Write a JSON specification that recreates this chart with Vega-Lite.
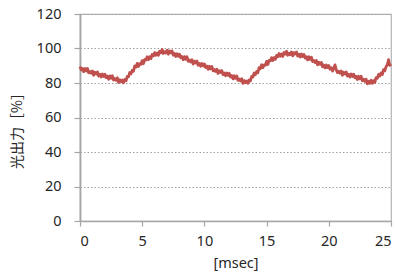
{
"$schema": "https://vega.github.io/schema/vega-lite/v6.json",
"width": 311,
"height": 207,
"autosize": {"type": "none"},
"padding": {"left": 80, "top": 14, "right": 8, "bottom": 54},
"background": "white",
"config": {"view": {"stroke": "#b3b3b3", "strokeWidth": 1.2}},
"data": {"values": [
{"t":0.0,"v":89.6},{"t":0.1,"v":87.6},{"t":0.2,"v":88.4},{"t":0.3,"v":86.6},{"t":0.4,"v":88.4},{"t":0.5,"v":87.0},{"t":0.6,"v":88.4},{"t":0.7,"v":85.9},{"t":0.8,"v":86.7},{"t":0.9,"v":85.7},
{"t":1.0,"v":87.0},{"t":1.1,"v":84.5},{"t":1.2,"v":86.2},{"t":1.3,"v":85.2},{"t":1.4,"v":86.4},{"t":1.5,"v":84.0},{"t":1.6,"v":85.1},{"t":1.7,"v":83.5},{"t":1.8,"v":85.2},{"t":1.9,"v":83.8},
{"t":2.0,"v":85.1},{"t":2.1,"v":83.1},{"t":2.2,"v":84.0},{"t":2.3,"v":82.2},{"t":2.4,"v":84.1},{"t":2.5,"v":82.7},{"t":2.6,"v":84.2},{"t":2.7,"v":81.7},{"t":2.8,"v":82.6},{"t":2.9,"v":81.6},
{"t":3.0,"v":83.0},{"t":3.1,"v":80.3},{"t":3.2,"v":81.9},{"t":3.3,"v":80.7},{"t":3.4,"v":81.7},{"t":3.5,"v":80.1},{"t":3.6,"v":82.0},{"t":3.7,"v":81.3},{"t":3.8,"v":83.8},{"t":3.9,"v":83.6},
{"t":4.0,"v":86.1},{"t":4.1,"v":85.3},{"t":4.2,"v":87.4},{"t":4.3,"v":86.8},{"t":4.4,"v":89.9},{"t":4.5,"v":89.2},{"t":4.6,"v":91.4},{"t":4.7,"v":89.6},{"t":4.8,"v":91.2},{"t":4.9,"v":90.9},
{"t":5.0,"v":93.0},{"t":5.1,"v":91.2},{"t":5.2,"v":93.6},{"t":5.3,"v":93.3},{"t":5.4,"v":95.2},{"t":5.5,"v":93.5},{"t":5.6,"v":95.2},{"t":5.7,"v":94.2},{"t":5.8,"v":96.5},{"t":5.9,"v":95.7},
{"t":6.0,"v":97.6},{"t":6.1,"v":96.1},{"t":6.2,"v":97.4},{"t":6.3,"v":96.0},{"t":6.4,"v":98.4},{"t":6.5,"v":97.5},{"t":6.6,"v":99.4},{"t":6.7,"v":97.1},{"t":6.8,"v":98.2},{"t":6.9,"v":97.4},
{"t":7.0,"v":99.0},{"t":7.1,"v":96.7},{"t":7.2,"v":98.6},{"t":7.3,"v":97.5},{"t":7.4,"v":98.6},{"t":7.5,"v":96.1},{"t":7.6,"v":97.1},{"t":7.7,"v":95.4},{"t":7.8,"v":97.0},{"t":7.9,"v":95.5},
{"t":8.0,"v":96.7},{"t":8.1,"v":94.6},{"t":8.2,"v":95.4},{"t":8.3,"v":93.5},{"t":8.4,"v":95.3},{"t":8.5,"v":93.8},{"t":8.6,"v":95.2},{"t":8.7,"v":92.5},{"t":8.8,"v":93.3},{"t":8.9,"v":92.2},
{"t":9.0,"v":93.5},{"t":9.1,"v":91.0},{"t":9.2,"v":92.6},{"t":9.3,"v":91.6},{"t":9.4,"v":92.7},{"t":9.5,"v":90.3},{"t":9.6,"v":91.3},{"t":9.7,"v":89.7},{"t":9.8,"v":91.3},{"t":9.9,"v":89.9},
{"t":10.0,"v":91.1},{"t":10.1,"v":89.0},{"t":10.2,"v":89.8},{"t":10.3,"v":87.9},{"t":10.4,"v":89.7},{"t":10.5,"v":88.2},{"t":10.6,"v":89.6},{"t":10.7,"v":87.0},{"t":10.8,"v":87.8},{"t":10.9,"v":86.7},
{"t":11.0,"v":88.0},{"t":11.1,"v":85.5},{"t":11.2,"v":87.1},{"t":11.3,"v":86.1},{"t":11.4,"v":87.2},{"t":11.5,"v":84.8},{"t":11.6,"v":85.8},{"t":11.7,"v":84.2},{"t":11.8,"v":85.8},{"t":11.9,"v":84.4},
{"t":12.0,"v":85.6},{"t":12.1,"v":83.5},{"t":12.2,"v":84.3},{"t":12.3,"v":82.4},{"t":12.4,"v":84.2},{"t":12.5,"v":82.7},{"t":12.6,"v":84.1},{"t":12.7,"v":81.5},{"t":12.8,"v":82.3},{"t":12.9,"v":81.2},
{"t":13.0,"v":82.5},{"t":13.1,"v":79.8},{"t":13.2,"v":81.4},{"t":13.3,"v":80.2},{"t":13.4,"v":81.2},{"t":13.5,"v":79.8},{"t":13.6,"v":81.8},{"t":13.7,"v":81.2},{"t":13.8,"v":83.8},{"t":13.9,"v":83.4},
{"t":14.0,"v":85.8},{"t":14.1,"v":84.8},{"t":14.2,"v":86.7},{"t":14.3,"v":86.0},{"t":14.4,"v":88.9},{"t":14.5,"v":88.3},{"t":14.6,"v":90.6},{"t":14.7,"v":88.9},{"t":14.8,"v":90.5},{"t":14.9,"v":90.3},
{"t":15.0,"v":92.5},{"t":15.1,"v":90.7},{"t":15.2,"v":93.1},{"t":15.3,"v":92.8},{"t":15.4,"v":94.7},{"t":15.5,"v":93.0},{"t":15.6,"v":94.7},{"t":15.7,"v":93.7},{"t":15.8,"v":96.0},{"t":15.9,"v":95.2},
{"t":16.0,"v":97.1},{"t":16.1,"v":95.5},{"t":16.2,"v":96.8},{"t":16.3,"v":95.4},{"t":16.4,"v":97.7},{"t":16.5,"v":96.7},{"t":16.6,"v":98.4},{"t":16.7,"v":96.1},{"t":16.8,"v":97.2},{"t":16.9,"v":96.4},
{"t":17.0,"v":98.0},{"t":17.1,"v":95.7},{"t":17.2,"v":97.6},{"t":17.3,"v":96.8},{"t":17.4,"v":98.0},{"t":17.5,"v":95.6},{"t":17.6,"v":96.7},{"t":17.7,"v":95.1},{"t":17.8,"v":96.8},{"t":17.9,"v":95.3},
{"t":18.0,"v":96.5},{"t":18.1,"v":94.4},{"t":18.2,"v":95.3},{"t":18.3,"v":93.4},{"t":18.4,"v":95.2},{"t":18.5,"v":93.7},{"t":18.6,"v":95.0},{"t":18.7,"v":92.4},{"t":18.8,"v":93.1},{"t":18.9,"v":91.9},
{"t":19.0,"v":93.1},{"t":19.1,"v":90.5},{"t":19.2,"v":92.0},{"t":19.3,"v":90.8},{"t":19.4,"v":91.9},{"t":19.5,"v":89.4},{"t":19.6,"v":90.4},{"t":19.7,"v":88.8},{"t":19.8,"v":90.4},{"t":19.9,"v":88.9},
{"t":20.0,"v":90.1},{"t":20.1,"v":88.0},{"t":20.2,"v":88.8},{"t":20.3,"v":86.9},{"t":20.4,"v":88.7},{"t":20.5,"v":90.5},{"t":20.6,"v":87.6},{"t":20.7,"v":86.0},{"t":20.8,"v":86.8},{"t":20.9,"v":85.7},
{"t":21.0,"v":87.0},{"t":21.1,"v":84.5},{"t":21.2,"v":86.2},{"t":21.3,"v":85.2},{"t":21.4,"v":86.4},{"t":21.5,"v":84.0},{"t":21.6,"v":85.1},{"t":21.7,"v":83.5},{"t":21.8,"v":85.2},{"t":21.9,"v":83.8},
{"t":22.0,"v":85.1},{"t":22.1,"v":83.0},{"t":22.2,"v":83.9},{"t":22.3,"v":82.0},{"t":22.4,"v":83.9},{"t":22.5,"v":82.4},{"t":22.6,"v":83.9},{"t":22.7,"v":81.3},{"t":22.8,"v":82.2},{"t":22.9,"v":81.0},
{"t":23.0,"v":82.2},{"t":23.1,"v":79.5},{"t":23.2,"v":81.0},{"t":23.3,"v":79.8},{"t":23.4,"v":81.6},{"t":23.5,"v":79.8},{"t":23.6,"v":81.4},{"t":23.7,"v":80.4},{"t":23.8,"v":83.1},{"t":23.9,"v":82.7},
{"t":24.0,"v":85.0},{"t":24.1,"v":84.0},{"t":24.2,"v":85.9},{"t":24.3,"v":84.9},{"t":24.4,"v":87.7},{"t":24.5,"v":87.1},{"t":24.6,"v":89.4},{"t":24.7,"v":90.5},{"t":24.8,"v":93.5},{"t":24.9,"v":90.2},
{"t":25.0,"v":91.0}
]},
"mark": {"type": "line", "color": "#c0504d", "strokeWidth": 2.8, "strokeJoin": "round"},
"encoding": {
"x": {"field": "t", "type": "quantitative",
 "scale": {"domain": [0, 25], "nice": false},
 "axis": {"title": "[msec]", "values": [0, 5, 10, 15, 20, 25], "grid": false,
  "domainColor": "#a6a6a6", "domainWidth": 1.5, "tickColor": "#a6a6a6", "tickWidth": 1.2, "tickSize": 5,
  "labelFont": "Noto Sans", "labelFontSize": 14.5, "labelColor": "#262626", "labelPadding": 8,
  "titleFont": "Noto Sans", "titleFontSize": 14.5, "titleFontWeight": "normal", "titleColor": "#262626", "titlePadding": 9}},
"y": {"field": "v", "type": "quantitative",
 "scale": {"domain": [0, 120], "nice": false},
 "axis": {"title": "光出力［%］", "values": [0, 20, 40, 60, 80, 100, 120],
  "grid": true, "gridColor": "#a0a0a0", "gridDash": [1.5, 2], "gridWidth": 1,
  "domainColor": "#a6a6a6", "domainWidth": 1.8, "tickColor": "#a6a6a6", "tickWidth": 1.2, "tickSize": 6,
  "labelFont": "Noto Sans", "labelFontSize": 14.5, "labelColor": "#262626", "labelPadding": 13,
  "titleFont": "Noto Sans CJK JP", "titleFontSize": 14, "titleFontWeight": "normal", "titleColor": "#262626",
  "titleBaseline": "bottom", "titleX": -56, "titleY": 113}}
}
}
